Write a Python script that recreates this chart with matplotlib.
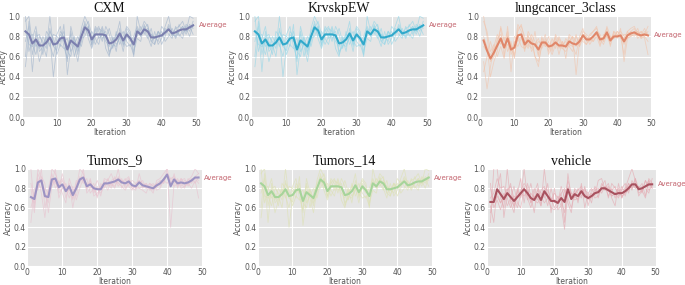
import numpy as np
import matplotlib
matplotlib.use("Agg")
import matplotlib.pyplot as plt

plt.style.use("ggplot")

titles = ["CXM", "KrvskpEW", "lungcancer_3class", "Tumors_9", "Tumors_14", "vehicle"]

# average accuracy per iteration (iterations 1..49)
avg_a = [85, 82, 73, 77, 71, 71, 74, 79, 72, 73, 78, 79, 67, 76, 73, 70, 80, 89, 86, 77,
         82, 82, 82, 81, 73, 74, 77, 83, 76, 82, 78, 72, 85, 82, 87, 85, 79, 79, 80, 81,
         84, 87, 83, 84, 86, 87, 87, 89, 91]
avg_lung = [76, 66, 58, 64, 71, 78, 69, 78, 67, 69, 81, 82, 72, 76, 73, 72, 67, 74, 74, 70,
            71, 74, 71, 71, 70, 75, 73, 72, 75, 81, 77, 77, 80, 84, 77, 78, 84, 76, 80, 80,
            81, 75, 81, 83, 84, 82, 81, 82, 81]
avg_t9 = [71, 69, 86, 88, 72, 71, 89, 90, 81, 84, 77, 82, 73, 80, 89, 91, 82, 84, 80, 79,
          79, 85, 85, 86, 87, 89, 86, 85, 87, 83, 82, 86, 83, 82, 81, 80, 83, 85, 89, 94,
          82, 89, 85, 86, 85, 86, 88, 91, 91]
avg_veh = [66, 66, 79, 74, 69, 75, 71, 67, 71, 75, 79, 75, 70, 68, 74, 68, 77, 72, 67, 67,
           65, 70, 66, 79, 69, 74, 72, 77, 72, 70, 72, 75, 76, 80, 80, 78, 76, 74, 75, 75,
           77, 80, 84, 84, 79, 80, 82, 84, 84]

# individual runs (estimated)
runs_a = [
    [95, 100, 72, 62, 80, 75, 68, 100, 70, 66, 85, 80, 55, 90, 75, 62, 88, 100, 92, 70, 85, 90, 78, 82, 65,
     70, 80, 95, 70, 88, 82, 60, 100, 85, 95, 90, 75, 72, 85, 80, 90, 100, 82, 88, 90, 95, 85, 100, 98],
    [75, 90, 45, 85, 65, 70, 80, 72, 60, 78, 70, 92, 42, 70, 80, 65, 75, 95, 80, 85, 78, 72, 88, 68, 60,
     80, 72, 78, 85, 75, 70, 78, 80, 90, 82, 88, 82, 78, 80, 85, 75, 80, 88, 80, 92, 82, 90, 85, 95],
    [50, 80, 82, 70, 75, 62, 85, 80, 40, 70, 82, 75, 78, 65, 72, 80, 70, 85, 90, 72, 90, 85, 75, 90, 82,
     68, 85, 72, 80, 90, 85, 65, 78, 75, 92, 80, 70, 85, 72, 78, 88, 82, 78, 90, 80, 85, 88, 80, 92],
    [100, 65, 78, 90, 68, 80, 72, 85, 78, 62, 72, 68, 70, 82, 60, 75, 85, 92, 78, 68, 80, 88, 85, 75, 70,
     78, 65, 88, 72, 80, 75, 80, 90, 82, 85, 78, 88, 72, 85, 80, 82, 92, 85, 78, 85, 90, 82, 92, 88],
    [85, 72, 70, 75, 55, 68, 78, 70, 82, 80, 75, 85, 65, 60, 78, 68, 80, 88, 95, 82, 72, 80, 90, 78, 88,
     75, 82, 80, 65, 85, 78, 72, 85, 80, 88, 92, 75, 80, 75, 90, 85, 88, 80, 85, 82, 78, 92, 88, 90],
    [60, 95, 62, 80, 82, 72, 60, 88, 70, 82, 90, 70, 58, 85, 70, 55, 78, 80, 90, 72, 88, 78, 82, 85, 62,
     72, 70, 80, 75, 70, 72, 62, 88, 80, 90, 85, 82, 78, 85, 72, 80, 90, 82, 80, 85, 90, 85, 90, 82],
]
runs_lung = [
    [100, 80, 55, 60, 75, 88, 60, 90, 62, 70, 92, 85, 68, 80, 75, 60, 55, 70, 78, 62, 72, 80, 68, 75, 58,
     80, 70, 62, 80, 88, 75, 82, 85, 90, 72, 80, 88, 70, 85, 82, 80, 62, 85, 88, 90, 82, 85, 80, 75],
    [55, 28, 50, 70, 82, 72, 80, 65, 75, 58, 88, 90, 80, 72, 68, 85, 62, 78, 70, 75, 65, 82, 75, 68, 78,
     72, 80, 75, 70, 82, 80, 72, 78, 85, 82, 75, 90, 80, 78, 85, 82, 72, 80, 85, 82, 88, 78, 85, 82],
    [80, 70, 40, 55, 65, 90, 75, 85, 45, 80, 75, 80, 65, 85, 78, 70, 75, 72, 82, 65, 78, 68, 80, 72, 75,
     70, 65, 80, 72, 85, 82, 78, 75, 80, 70, 82, 80, 72, 85, 78, 88, 55, 78, 80, 85, 78, 82, 88, 80],
    [95, 85, 65, 72, 60, 70, 58, 82, 72, 62, 85, 92, 75, 68, 82, 75, 60, 80, 70, 72, 70, 78, 62, 75, 68,
     82, 78, 70, 78, 75, 72, 80, 85, 88, 80, 75, 85, 78, 82, 80, 78, 82, 82, 85, 88, 80, 85, 78, 62],
    [45, 60, 75, 62, 78, 82, 68, 72, 65, 75, 70, 78, 72, 82, 65, 72, 78, 68, 75, 70, 62, 72, 78, 70, 72,
     75, 80, 42, 75, 82, 80, 75, 80, 85, 78, 72, 82, 80, 78, 85, 80, 78, 85, 80, 82, 85, 80, 82, 90],
    [70, 65, 62, 68, 72, 75, 70, 80, 70, 60, 80, 70, 68, 72, 78, 60, 50, 75, 72, 80, 68, 75, 70, 68, 65,
     72, 70, 82, 70, 78, 72, 78, 75, 82, 75, 78, 80, 75, 78, 82, 85, 80, 78, 82, 80, 85, 78, 80, 85],
]
runs_t9 = [
    [100, 60, 100, 90, 75, 65, 100, 95, 85, 90, 70, 85, 60, 80, 100, 95, 80, 90, 75, 82, 72, 90, 88, 95, 85,
     100, 80, 88, 92, 80, 78, 95, 82, 85, 80, 75, 88, 90, 95, 100, 82, 95, 80, 90, 85, 88, 92, 100, 95],
    [60, 75, 80, 100, 60, 78, 85, 100, 70, 80, 85, 75, 70, 88, 85, 100, 75, 80, 85, 70, 85, 80, 90, 82, 92,
     85, 90, 80, 85, 88, 85, 80, 78, 75, 85, 82, 80, 88, 85, 100, 40, 85, 90, 82, 88, 85, 90, 85, 92],
    [80, 55, 90, 75, 50, 80, 95, 80, 88, 75, 65, 90, 78, 72, 92, 85, 90, 75, 80, 88, 78, 88, 82, 85, 80,
     92, 85, 90, 82, 78, 85, 88, 80, 85, 78, 80, 85, 82, 90, 95, 88, 82, 85, 85, 80, 90, 85, 92, 88],
    [45, 80, 78, 92, 85, 55, 82, 90, 78, 95, 80, 70, 82, 68, 80, 90, 78, 88, 72, 75, 80, 85, 78, 88, 90,
     82, 88, 85, 90, 82, 80, 85, 88, 80, 82, 85, 78, 80, 88, 85, 90, 88, 82, 88, 90, 82, 88, 90, 85],
    [70, 65, 95, 85, 70, 72, 90, 85, 82, 88, 78, 82, 68, 85, 90, 88, 85, 82, 78, 80, 75, 82, 85, 80, 88,
     85, 82, 78, 85, 80, 82, 88, 85, 82, 80, 78, 82, 85, 90, 92, 85, 90, 88, 80, 82, 85, 80, 88, 70],
    [85, 70, 85, 80, 80, 75, 82, 88, 75, 80, 82, 78, 75, 82, 88, 92, 82, 85, 80, 72, 82, 85, 88, 85, 82,
     90, 88, 82, 88, 85, 80, 80, 82, 80, 85, 82, 85, 88, 85, 95, 90, 92, 85, 90, 82, 85, 88, 92, 95],
]
runs_veh = [
    [45, 100, 100, 70, 60, 100, 65, 55, 80, 72, 100, 70, 60, 75, 85, 62, 100, 70, 60, 58, 62, 75, 45, 95, 70,
     78, 65, 85, 60, 75, 80, 72, 88, 90, 78, 82, 70, 62, 85, 70, 80, 90, 100, 88, 75, 78, 82, 88, 80],
    [62, 45, 80, 95, 50, 75, 85, 60, 75, 90, 65, 85, 72, 55, 80, 75, 70, 85, 55, 80, 58, 62, 78, 65, 55,
     80, 75, 70, 82, 62, 78, 80, 70, 82, 88, 70, 85, 80, 75, 82, 72, 85, 78, 90, 80, 85, 72, 90, 85],
    [80, 65, 72, 65, 75, 62, 70, 82, 65, 60, 80, 72, 85, 68, 65, 70, 75, 62, 80, 65, 72, 68, 55, 82, 75,
     70, 80, 72, 78, 75, 65, 82, 75, 78, 80, 85, 72, 75, 70, 80, 85, 75, 88, 80, 82, 75, 88, 78, 82],
    [70, 75, 90, 80, 82, 70, 60, 72, 70, 78, 85, 80, 65, 80, 70, 62, 80, 78, 70, 60, 68, 75, 80, 70, 60,
     75, 78, 82, 70, 72, 75, 70, 72, 85, 78, 80, 78, 82, 72, 78, 80, 82, 80, 85, 78, 82, 80, 75, 90],
    [55, 70, 75, 65, 72, 80, 68, 62, 78, 70, 82, 68, 75, 70, 78, 72, 65, 70, 68, 75, 70, 62, 38, 78, 72,
     68, 70, 75, 80, 70, 72, 78, 80, 75, 82, 72, 80, 70, 78, 72, 75, 78, 85, 80, 82, 78, 88, 82, 85],
    [85, 60, 68, 58, 70, 78, 82, 70, 60, 75, 72, 78, 65, 72, 68, 78, 82, 72, 70, 68, 65, 82, 70, 88, 75,
     72, 68, 80, 75, 68, 70, 75, 78, 80, 82, 78, 72, 75, 80, 70, 78, 85, 80, 90, 72, 78, 70, 88, 80],
]

averages = [avg_a, avg_a, avg_lung, avg_t9, avg_a, avg_veh]
all_runs = [runs_a, runs_a, runs_lung, runs_t9, runs_a, runs_veh]
avg_colors = ["#7b7fae", "#31a9cb", "#e0876a", "#9c93c3", "#a6d49a", "#a8525f"]
run_colors = ["#a3b6cd", "#95d6e7", "#f2c4ab", "#e8c2cf", "#dde1b4", "#e4a9b1"]

# axes boxes [left, bottom, width, height] in figure fractions
boxes = [
    [0.032, 0.589, 0.255, 0.354],
    [0.367, 0.589, 0.256, 0.354],
    [0.701, 0.589, 0.250, 0.354],
    [0.040, 0.065, 0.255, 0.343],
    [0.376, 0.065, 0.255, 0.343],
    [0.711, 0.065, 0.246, 0.343],
]

fig = plt.figure(figsize=(6.85, 2.85), dpi=100)
fig.patch.set_facecolor("white")

for i in range(6):
    ax = fig.add_axes(boxes[i])
    ax.set_facecolor("#e5e5e5")
    for r in all_runs[i]:
        x = np.arange(1, len(r) + 1)
        ax.plot(x, np.array(r) / 100, color=run_colors[i], lw=0.6, alpha=0.65)
    avg = np.array(averages[i]) / 100
    x = np.arange(1, len(avg) + 1)
    ax.plot(x, avg, color=avg_colors[i], lw=1.5)
    ax.text(50.6, avg[-1], "Average", color="#c46670", fontsize=5, va="center",
            ha="left", clip_on=False)
    ax.set_xlim(0, 50)
    ax.set_ylim(0, 1.0)
    ax.set_xticks([0, 10, 20, 30, 40, 50])
    ax.set_yticks([0.0, 0.2, 0.4, 0.6, 0.8, 1.0])
    ax.grid(True, color="white", lw=0.8)
    ax.tick_params(labelsize=5.5, colors="#555555", length=0, pad=1)
    ax.set_xlabel("Iteration", fontsize=5.5, color="#555555", labelpad=0)
    ax.set_ylabel("Accuracy", fontsize=5.5, color="#555555", labelpad=0.5)
    for s in ax.spines.values():
        s.set_visible(False)
    ax.set_title(titles[i], fontsize=10, family="Liberation Serif", color="#111111", pad=3)

fig.savefig("out.png", dpi=100, facecolor="white")
